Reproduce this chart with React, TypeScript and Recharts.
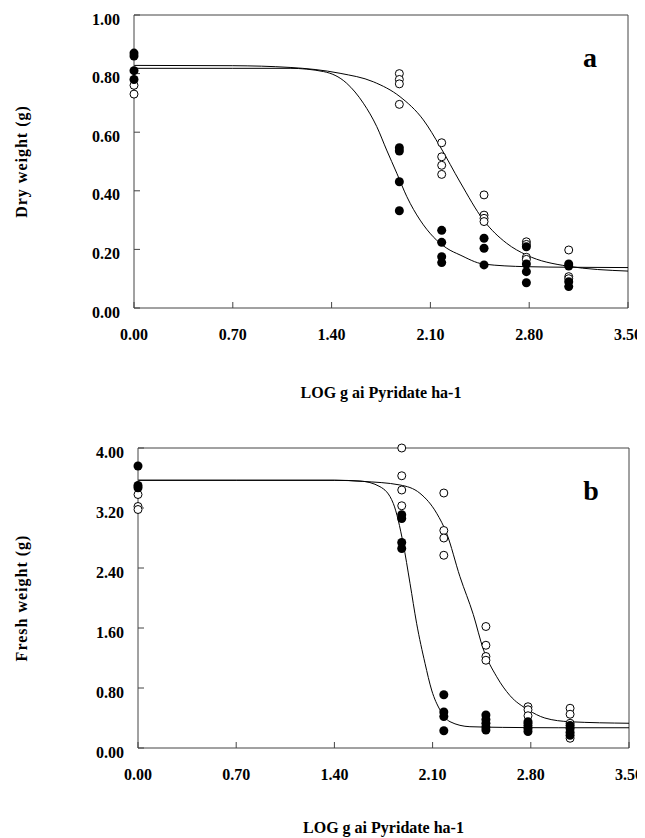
import React from "react";
import { ComposedChart, Line, Scatter, XAxis, YAxis, Label, ReferenceLine } from "recharts";

// log10 doses (g ai/ha) used in the trial
const doses = [0, 1.88, 2.18, 2.48, 2.78, 3.08];
const xTicks = [0, 0.7, 1.4, 2.1, 2.8, 3.5];
const dryTicks = [0, 0.2, 0.4, 0.6, 0.8, 1.0];
const freshTicks = [0, 0.8, 1.6, 2.4, 3.2, 4.0];

// replicates per dose (same order as doses)
const dryOpen = [
  [0.76, 0.73],
  [0.8, 0.78, 0.765, 0.695],
  [0.564, 0.516, 0.487, 0.456],
  [0.386, 0.317, 0.306, 0.295],
  [0.226, 0.217, 0.173, 0.166],
  [0.198, 0.107, 0.1],
];
const dryFilled = [
  [0.87, 0.86, 0.81, 0.78],
  [0.547, 0.536, 0.431, 0.332],
  [0.265, 0.224, 0.175, 0.155],
  [0.238, 0.204, 0.147],
  [0.209, 0.15, 0.124, 0.086],
  [0.15, 0.143, 0.09, 0.073],
];
const freshOpen = [
  [3.38, 3.22, 3.18],
  [4.0, 3.63, 3.44, 3.23],
  [3.4, 2.9, 2.8, 2.57],
  [1.62, 1.37, 1.22, 1.17],
  [0.55, 0.51, 0.43, 0.33],
  [0.53, 0.45, 0.33, 0.13],
];
const freshFilled = [
  [3.76, 3.5, 3.47],
  [3.11, 3.06, 2.74, 2.66],
  [0.71, 0.48, 0.42, 0.23],
  [0.44, 0.38, 0.33, 0.28, 0.24],
  [0.35, 0.3, 0.26, 0.22],
  [0.3, 0.26, 0.21, 0.17],
];

// fitted curves
const dryOpenCurveX = [0, 0.7, 1.106, 1.46, 1.696, 1.885, 2.05, 2.17, 2.31, 2.476, 2.64, 2.78, 3.07, 3.5];
const dryOpenCurveY = [0.828, 0.827, 0.821, 0.801, 0.772, 0.721, 0.642, 0.55, 0.43, 0.3, 0.221, 0.181, 0.143, 0.126];
const dryFilledCurveX = [0, 0.7, 1.106, 1.342, 1.507, 1.625, 1.72, 1.79, 1.862, 1.933, 2.027, 2.12, 2.216, 2.31, 2.476, 2.78, 3.1, 3.5];
const dryFilledCurveY = [0.818, 0.818, 0.818, 0.807, 0.767, 0.699, 0.619, 0.539, 0.46, 0.38, 0.3, 0.243, 0.204, 0.181, 0.15, 0.141, 0.139, 0.138];
const freshOpenCurveX = [0, 0.7, 1.4, 1.6, 1.867, 2.01, 2.129, 2.2, 2.295, 2.39, 2.461, 2.557, 2.651, 2.78, 2.9, 3.08, 3.5];
const freshOpenCurveY = [3.57, 3.57, 3.57, 3.555, 3.507, 3.396, 3.13, 2.862, 2.284, 1.78, 1.32, 0.95, 0.7, 0.51, 0.4, 0.35, 0.33];
const freshFilledCurveX = [0, 0.7, 1.4, 1.582, 1.725, 1.82, 1.89, 1.939, 1.986, 2.046, 2.093, 2.153, 2.224, 2.366, 2.6, 3.0, 3.5];
const freshFilledCurveY = [3.57, 3.57, 3.57, 3.56, 3.484, 3.26, 2.73, 2.196, 1.663, 1.129, 0.773, 0.507, 0.351, 0.284, 0.275, 0.27, 0.27];

const toPoints = (groups: number[][]) =>
  groups.flatMap((g, i) => g.map((y) => ({ x: doses[i], y })));
const toCurve = (xs: number[], ys: number[]) => xs.map((x, i) => ({ x, y: ys[i] }));

const FONT = "'Liberation Serif', 'Times New Roman', serif";
const AXIS = "#444";

const OpenDot = (p: any) => (
  <circle cx={p.cx} cy={p.cy} r={4} fill="#fff" stroke="#000" strokeWidth={1} />
);
const FilledDot = (p: any) => <circle cx={p.cx} cy={p.cy} r={4.5} fill="#000" />;

const XTick = (p: any) => (
  <text x={p.x} y={p.y} dy="0.35em" textAnchor="middle" fontFamily={FONT} fontWeight="bold" fontSize={16} fill="#000">
    {Number(p.payload.value).toFixed(2)}
  </text>
);
const YTick = (p: any) => (
  <text x={p.x} y={p.y + 4} dy="0.35em" textAnchor="end" fontFamily={FONT} fontWeight="bold" fontSize={16} fill="#000">
    {Number(p.payload.value).toFixed(2)}
  </text>
);

interface PanelProps {
  open: number[][];
  filled: number[][];
  openCurve: { x: number; y: number }[];
  filledCurve: { x: number; y: number }[];
  yTicks: number[];
  yTitle: string;
  letter: string;
  height: number;
  margin: { top: number; right: number; bottom: number; left: number };
  yAxisWidth: number;
  xAxisHeight: number;
  titleOffset: number;
}

function Panel(props: PanelProps) {
  const yMax = props.yTicks[props.yTicks.length - 1];
  return (
    <ComposedChart width={637} height={props.height} margin={props.margin}>
      <XAxis
        dataKey="x"
        type="number"
        domain={[0, 3.5]}
        ticks={xTicks}
        height={props.xAxisHeight}
        axisLine={{ stroke: AXIS }}
        tickLine={{ stroke: AXIS }}
        tickSize={-6}
        tickMargin={32}
        tick={XTick}
        interval={0}
      >
        <Label
          content={({ viewBox }: any) => (
            <text
              x={viewBox.x + viewBox.width / 2}
              y={viewBox.y + viewBox.height - props.titleOffset}
              textAnchor="middle"
              fontFamily={FONT}
              fontWeight="bold"
              fontSize={16}
            >
              LOG g ai Pyridate ha-1
            </text>
          )}
        />
      </XAxis>
      <YAxis
        dataKey="y"
        type="number"
        domain={[0, yMax]}
        ticks={props.yTicks}
        width={props.yAxisWidth}
        axisLine={{ stroke: AXIS }}
        tickLine={{ stroke: AXIS }}
        tickSize={-6}
        tickMargin={20}
        tick={YTick}
        interval={0}
      >
        <Label
          content={({ viewBox }: any) => {
            const cx = viewBox.x + 13;
            const cy = viewBox.y + viewBox.height / 2;
            return (
              <text
                x={cx}
                y={cy}
                dy="0.35em"
                transform={`rotate(-90 ${cx} ${cy})`}
                textAnchor="middle"
                fontFamily={FONT}
                fontWeight="bold"
                fontSize={16}
                letterSpacing={1}
              >
                {props.yTitle}
              </text>
            );
          }}
        />
      </YAxis>
      {/* box frame: top and right edges of the plot */}
      <ReferenceLine x={3.5} stroke={AXIS} strokeWidth={1} />
      <ReferenceLine
        y={yMax}
        stroke={AXIS}
        strokeWidth={1}
        label={{
          content: ({ viewBox }: any) => (
            <text
              x={viewBox.x + viewBox.width - 38}
              y={viewBox.y + 52}
              textAnchor="middle"
              fontFamily={FONT}
              fontWeight="bold"
              fontSize={28}
            >
              {props.letter}
            </text>
          ),
        }}
      />
      <Scatter data={toPoints(props.open)} dataKey="y" shape={OpenDot} isAnimationActive={false} />
      <Scatter data={toPoints(props.filled)} dataKey="y" shape={FilledDot} isAnimationActive={false} />
      <Line data={props.openCurve} dataKey="y" type="monotone" stroke="#000" strokeWidth={1} dot={false} activeDot={false} isAnimationActive={false} />
      <Line data={props.filledCurve} dataKey="y" type="monotone" stroke="#000" strokeWidth={1} dot={false} activeDot={false} isAnimationActive={false} />
    </ComposedChart>
  );
}

export default function App() {
  return (
    <div style={{ width: 637 }}>
      <Panel
        open={dryOpen}
        filled={dryFilled}
        openCurve={toCurve(dryOpenCurveX, dryOpenCurveY)}
        filledCurve={toCurve(dryFilledCurveX, dryFilledCurveY)}
        yTicks={dryTicks}
        yTitle="Dry weight (g)"
        letter="a"
        height={412}
        margin={{ top: 7, right: 17, bottom: 12, left: 0 }}
        yAxisWidth={126}
        xAxisHeight={100}
        titleOffset={10}
      />
      <Panel
        open={freshOpen}
        filled={freshFilled}
        openCurve={toCurve(freshOpenCurveX, freshOpenCurveY)}
        filledCurve={toCurve(freshFilledCurveX, freshFilledCurveY)}
        yTicks={freshTicks}
        yTitle="Fresh weight (g)"
        letter="b"
        height={418}
        margin={{ top: 28, right: 16, bottom: 0, left: 0 }}
        yAxisWidth={130}
        xAxisHeight={90}
        titleOffset={5}
      />
    </div>
  );
}
